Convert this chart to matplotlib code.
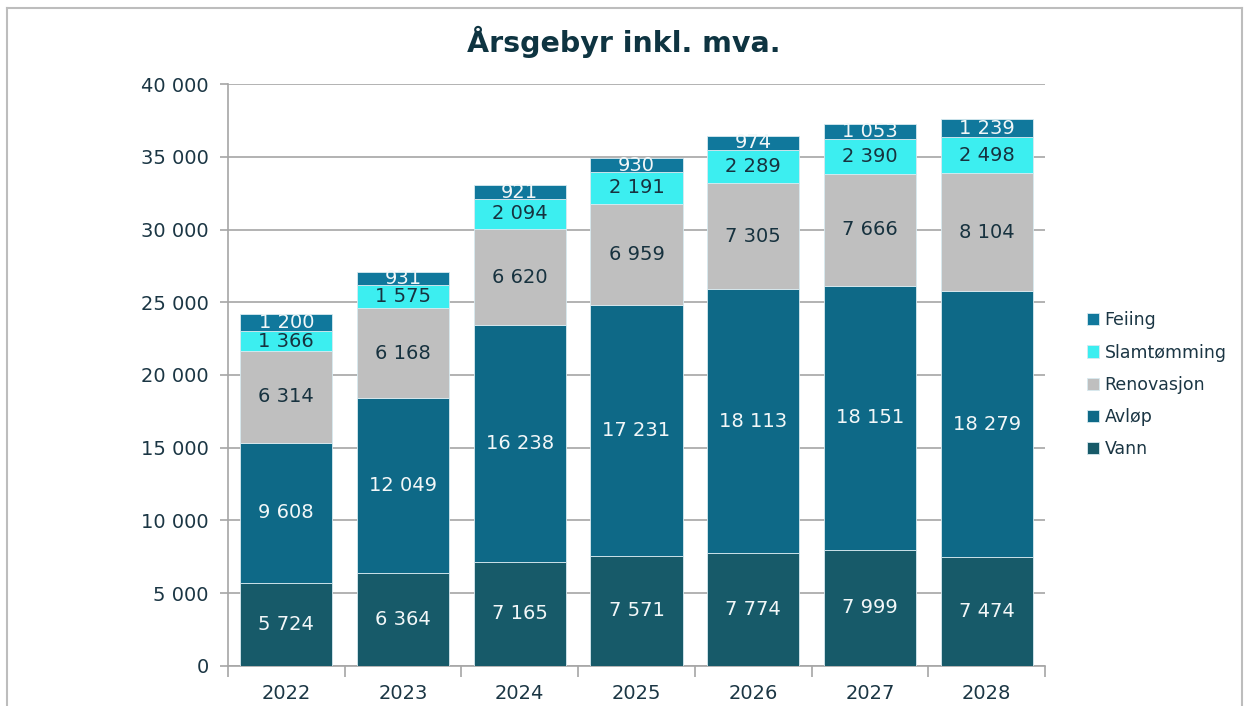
import matplotlib.pyplot as plt
from matplotlib.lines import Line2D

# data
years = ['2022', '2023', '2024', '2025', '2026', '2027', '2028']
vann = [5724, 6364, 7165, 7571, 7774, 7999, 7474]
avlop = [9608, 12049, 16238, 17231, 18113, 18151, 18279]
renovasjon = [6314, 6168, 6620, 6959, 7305, 7666, 8104]
slamtomming = [1366, 1575, 2094, 2191, 2289, 2390, 2498]
feiing = [1200, 931, 921, 930, 974, 1053, 1239]

series = [
    ('Vann', vann, '#175A69', '#F2F7F8'),
    ('Avløp', avlop, '#0E6987', '#F2F7F8'),
    ('Renovasjon', renovasjon, '#BFBFBF', '#17323F'),
    ('Slamtømming', slamtomming, '#3CEEF0', '#17323F'),
    ('Feiing', feiing, '#10789C', '#F2F7F8'),
]

txt = '#1B3644'


def fmt(v):
    return f'{v:,.0f}'.replace(',', ' ')


fig = plt.figure(figsize=(12.47, 7.06), dpi=100)
ax = fig.add_axes([0.1828, 0.0567, 0.6552, 0.8243])

x = list(range(len(years)))
bottom = [0] * len(years)
handles = []
for name, vals, col, tcol in series:
    bars = ax.bar(x, vals, width=0.79, bottom=bottom, color=col,
                  edgecolor='#D8EAF0', linewidth=0.6, label=name, zorder=3)
    for i, v in enumerate(vals):
        ax.text(i, bottom[i] + v / 2, fmt(v), ha='center', va='center',
                fontsize=14, color=tcol, zorder=4)
    bottom = [b + v for b, v in zip(bottom, vals)]
    handles.append(bars)

ax.set_xlim(-0.5, len(years) - 0.5)
ax.set_ylim(0, 40000)
ax.set_yticks(range(0, 40001, 5000))
ax.set_yticklabels([fmt(t) for t in range(0, 40001, 5000)])
ax.set_xticks(x)
ax.set_xticklabels(years)
ax.set_xticks([i - 0.5 for i in range(len(years) + 1)], minor=True)
ax.tick_params(axis='x', which='major', length=0, pad=13, labelsize=14, labelcolor=txt)
ax.tick_params(axis='x', which='minor', length=8, color='#A6A6A6', width=1.2)
ax.tick_params(axis='y', length=6, color='#A6A6A6', width=1.2, pad=8,
               labelsize=14, labelcolor=txt)

ax.grid(axis='y', color='#A6A6A6', linewidth=1.2, zorder=0)
ax.set_axisbelow(True)
for s in ['top', 'right']:
    ax.spines[s].set_visible(False)
for s in ['left', 'bottom']:
    ax.spines[s].set_color('#A6A6A6')
    ax.spines[s].set_linewidth(1.2)

fig.text(0.5, 0.941, 'Årsgebyr inkl. mva.', ha='center', va='center',
         fontsize=20.5, fontweight='bold', color='#0E3441')

leg = ax.legend(handles[::-1], [s[0] for s in series][::-1], loc='center left',
                bbox_to_anchor=(0.865, 0.455), bbox_transform=fig.transFigure,
                frameon=False, fontsize=12.5, handlelength=0.7, handleheight=0.7,
                handletextpad=0.3, labelspacing=0.82, borderpad=0)
for t in leg.get_texts():
    t.set_color(txt)

# ramme rundt figuren
bc = '#BDBDBD'
fig.add_artist(Line2D([0.006, 0.006], [0.0, 0.989], color=bc, lw=1.5, transform=fig.transFigure))
fig.add_artist(Line2D([0.006, 0.996], [0.989, 0.989], color=bc, lw=1.5, transform=fig.transFigure))
fig.add_artist(Line2D([0.996, 0.996], [0.0, 0.989], color=bc, lw=1.5, transform=fig.transFigure))

fig.savefig('out.png', dpi=100)
